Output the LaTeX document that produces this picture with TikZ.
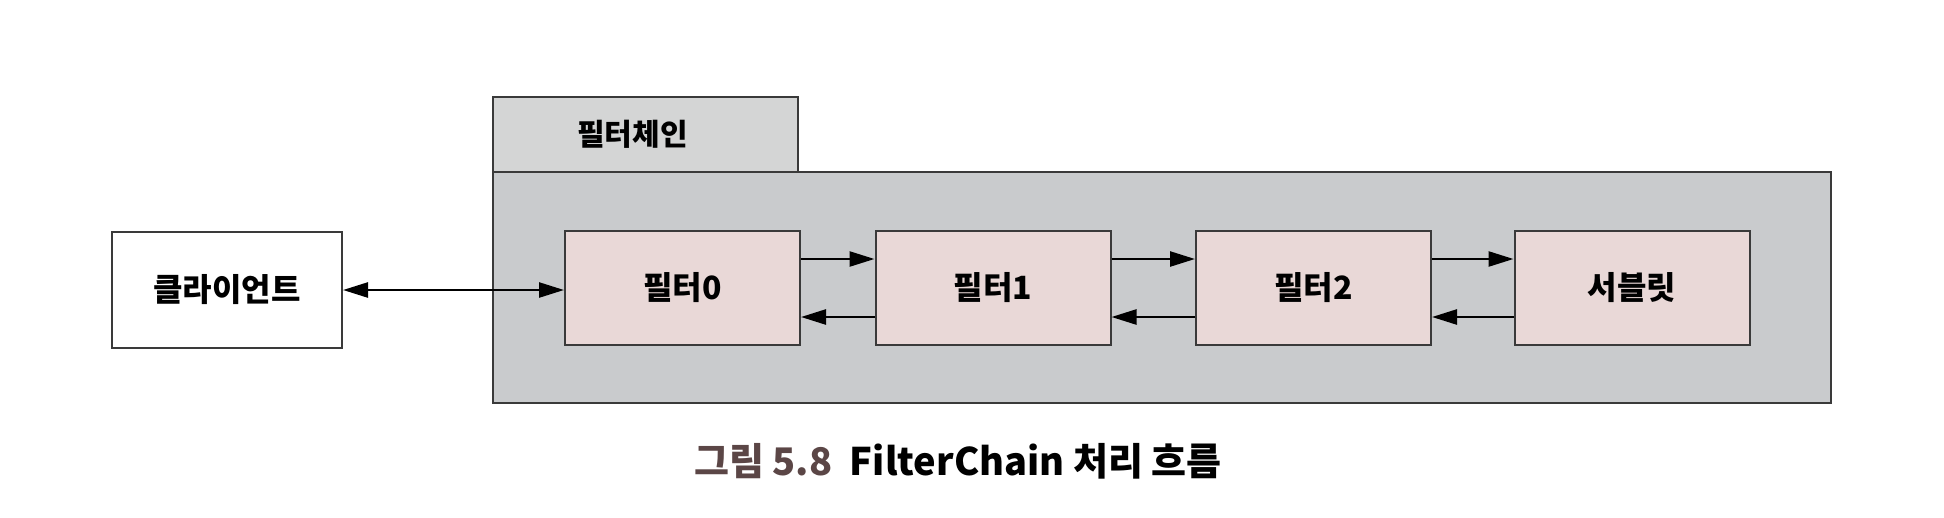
\documentclass[tikz,border=0pt]{standalone}
\usepackage{fontspec}
\setmainfont{Noto Sans CJK KR}
\usetikzlibrary{arrows.meta}
\definecolor{chaingray}{HTML}{C9CBCD}
\definecolor{tabgray}{HTML}{D4D5D5}
\definecolor{boxpink}{HTML}{E9D8D7}
\definecolor{edgegray}{HTML}{3A3A3A}
\definecolor{figbrown}{HTML}{5B4646}
\tikzset{
    box/.style={draw=edgegray, line width=2pt, minimum width=235pt, minimum height=114pt,
        font=\fontsize{32}{36}\selectfont\bfseries, inner sep=0pt},
    filterbox/.style={box, fill=boxpink},
    arr/.style={line width=2.5pt, -{Triangle[length=25pt,width=15pt]}},
}
\begin{document}
\begin{tikzpicture}[x=1pt, y=-1pt]
    \useasboundingbox (0,0) rectangle (1944,517);

    % 필터체인 컨테이너
    \node[draw=edgegray, line width=2pt, fill=tabgray, minimum width=305pt, minimum height=75pt,
        font=\fontsize{30}{34}\selectfont\bfseries, inner sep=0pt] (tab) at (645.5,134.5)
        {\hspace*{-26pt}필터체인};
    \node[draw=edgegray, line width=2pt, fill=chaingray, minimum width=1338pt, minimum height=231pt,
        inner sep=0pt] (chain) at (1162,287.5) {};

    % 클라이언트
    \node[box, fill=white, minimum width=230pt, minimum height=116pt] (client) at (227,290) {클라이언트};

    % 필터와 서블릿
    \node[filterbox] (f0) at (682.5,288) {필터0};
    \node[filterbox] (f1) at (993,288) {필터1};
    \node[filterbox] (f2) at (1313.5,288) {필터2};
    \node[filterbox] (servlet) at (1632,288) {서블릿};

    % 화살표
    \draw[arr, {Triangle[length=25pt,width=15pt]}-{Triangle[length=25pt,width=15pt]}] (client.east) -- (f0.west |- client.east);
    \foreach \a/\b in {f0/f1, f1/f2, f2/servlet} {
        \draw[arr] ([yshift=29pt]\a.east) -- ([yshift=29pt]\b.west);
        \draw[arr] ([yshift=-29pt]\b.west) -- ([yshift=-29pt]\a.east);
    }

    % 캡션
    \node[font=\fontsize{38}{42}\selectfont\bfseries] (caption) at (958,461)
        {\textcolor{figbrown}{그림 5.8}\ \ FilterChain 처리 흐름};
\end{tikzpicture}
\end{document}
